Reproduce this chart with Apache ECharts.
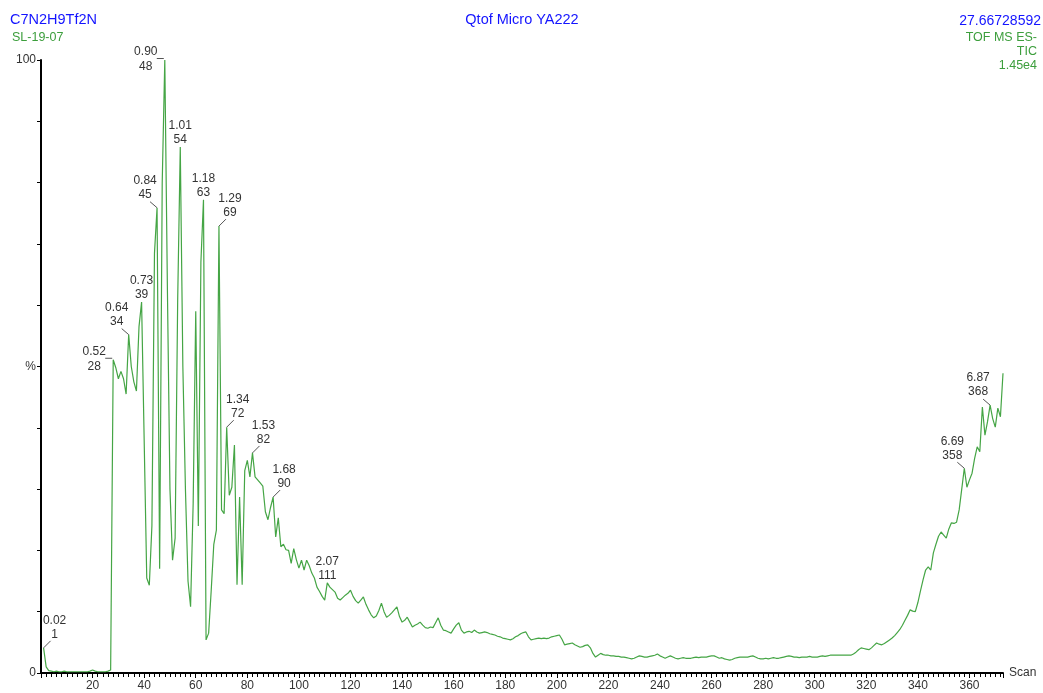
<!DOCTYPE html>
<html>
<head>
<meta charset="utf-8">
<script src="https://cdn.jsdelivr.net/npm/echarts@6/dist/echarts.min.js"></script>
<style>
html,body{margin:0;padding:0;background:#fff;}
#chart{width:1043px;height:693px;}
</style>
</head>
<body>
<div id="chart"></div>
<script>
// ---- DATA ----
const firstScan = 1;
// TIC intensity (% of 1.45e4) for scans 1..373
const tic = [
  4.1, 1.0, 0.4, 0.3, 0.2, 0.3, 0.2, 0.2, 0.3, 0.2,
  0.2, 0.2, 0.2, 0.2, 0.2, 0.2, 0.2, 0.2, 0.3, 0.5,
  0.3, 0.2, 0.2, 0.2, 0.2, 0.3, 0.5, 51.1, 49.8, 48.0,
  49.2, 48.0, 45.5, 55.2, 50.0, 47.5, 46.0, 56.5, 60.5, 38.0,
  15.5, 14.3, 24.0, 68.5, 75.9, 17.0, 80.0, 100, 63.0, 30.0,
  18.4, 22.0, 61.0, 85.8, 50.0, 30.0, 15.0, 10.8, 27.7, 59.0,
  24.0, 67.0, 77.2, 5.4, 6.5, 13.5, 21.0, 23.3, 72.9, 26.6,
  26.0, 40.1, 29.0, 30.3, 37.2, 14.4, 28.7, 14.4, 33.0, 34.7,
  32.0, 35.9, 32.0, 31.5, 31.0, 30.5, 26.3, 25.0, 27.0, 28.7,
  22.2, 25.3, 20.6, 21.0, 20.1, 20.0, 17.9, 20.3, 18.5, 17.1,
  18.4, 16.8, 18.4, 17.5, 16.3, 15.5, 14.0, 13.3, 12.5, 11.9,
  14.7, 14.0, 13.6, 13.2, 12.2, 11.9, 12.3, 12.7, 13.0, 13.5,
  12.5, 11.8, 11.4, 11.9, 12.4, 11.2, 10.3, 9.5, 9.0, 9.3,
  10.2, 11.4, 10.0, 9.1, 9.4, 9.8, 10.3, 10.8, 9.2, 8.3,
  8.6, 9.1, 8.3, 7.5, 7.8, 8.0, 8.3, 7.8, 7.4, 7.3,
  7.5, 7.4, 8.2, 9.0, 7.8, 7.0, 6.9, 6.7, 6.5, 7.2,
  7.8, 8.2, 7.0, 6.5, 6.7, 6.8, 6.6, 7.0, 6.7, 6.5,
  6.6, 6.7, 6.6, 6.4, 6.3, 6.2, 6.0, 5.9, 5.7, 5.6,
  5.5, 5.4, 5.6, 5.9, 6.1, 6.4, 6.6, 6.7, 5.9, 5.4,
  5.5, 5.6, 5.7, 5.6, 5.7, 5.6, 5.7, 5.9, 6.0, 6.1,
  6.2, 5.5, 4.6, 4.7, 4.8, 4.9, 4.6, 4.4, 4.2, 4.3,
  4.5, 4.6, 4.1, 3.2, 2.6, 2.9, 3.2, 3.0, 2.9, 2.9,
  2.8, 2.8, 2.7, 2.7, 2.6, 2.6, 2.5, 2.4, 2.3, 2.4,
  2.6, 2.8, 2.7, 2.6, 2.6, 2.7, 2.8, 2.9, 3.1, 2.8,
  2.6, 2.4, 2.6, 2.8, 2.6, 2.4, 2.3, 2.4, 2.5, 2.4,
  2.4, 2.4, 2.5, 2.6, 2.5, 2.6, 2.6, 2.6, 2.7, 2.8,
  2.8, 2.6, 2.4, 2.5, 2.3, 2.2, 2.1, 2.2, 2.4, 2.5,
  2.6, 2.6, 2.6, 2.6, 2.7, 2.8, 2.6, 2.4, 2.3, 2.3,
  2.4, 2.3, 2.4, 2.5, 2.4, 2.4, 2.5, 2.6, 2.7, 2.8,
  2.7, 2.6, 2.6, 2.5, 2.6, 2.6, 2.6, 2.7, 2.6, 2.6,
  2.6, 2.7, 2.8, 2.7, 2.8, 2.9, 2.9, 2.9, 2.9, 2.9,
  2.9, 2.9, 2.9, 2.9, 3.1, 3.4, 3.8, 4.1, 4.0, 3.9,
  3.8, 4.1, 4.5, 4.9, 4.7, 4.6, 4.8, 5.1, 5.4, 5.7,
  6.1, 6.6, 7.1, 7.8, 8.6, 9.4, 10.3, 10.1, 10.0, 11.5,
  13.4, 15.2, 16.8, 17.3, 16.8, 19.6, 21.0, 22.3, 23.0, 22.5,
  22.0, 23.5, 24.5, 24.4, 24.6, 26.6, 30.0, 33.4, 30.3, 31.5,
  32.6, 35.0, 36.9, 36.1, 43.4, 38.8, 41.0, 43.7, 41.5, 40.1,
  43.2, 41.8, 48.9
];
// Peak annotations: scan number and retention time
const annScans = [1, 28, 34, 39, 45, 48, 54, 63, 69, 72, 82, 90, 111, 358, 368];
const annRT = ['0.02', '0.52', '0.64', '0.73', '0.84', '0.90', '1.01', '1.18', '1.29', '1.34', '1.53', '1.68', '2.07', '6.69', '6.87'];
// Y tick labels
const yLabels = {0: '0', 50: '%', 100: '100'};
// Header texts
const headerLeft = ['C7N2H9Tf2N', 'SL-19-07'];
const headerCenter = 'Qtof Micro YA222';
const headerRight = ['27.66728592', 'TOF MS ES-', 'TIC', '1.45e4'];

// ---- LAYOUT / STYLE (not data) ----
const annPlace = ['ur', 'l', 'ul', 'u', 'ul', 'l', 'u', 'u', 'ur', 'ur', 'ur', 'ur', 'u', 'ul', 'ul'];
const FONT = '"Liberation Sans", Arial, sans-serif';
const BLUE = '#1414ff';
const GREEN = '#3c9e3c';
const TRACE = '#45a545';

const lineData = tic.map((v, i) => [firstScan + i, v]);
const annData = annScans.map((s, i) => [s, tic[s - firstScan], i]);

const chart = echarts.init(document.getElementById('chart'), null, {renderer: 'canvas'});

function renderAnn(params, api) {
  const i = api.value(2);
  const p = api.coord([api.value(0), api.value(1)]);
  const place = annPlace[i];
  let cx, y1, y2, seg = null;
  if (place === 'l') {
    seg = [[p[0] - 8, p[1] - 1.5], [p[0] - 1, p[1] - 1.5]];
    cx = p[0] - 19; y1 = p[1] - 8; y2 = p[1] + 7;
  } else if (place === 'ul') {
    seg = [[p[0], p[1]], [p[0] - 7, p[1] - 6]];
    cx = p[0] - 12; y1 = p[1] - 27; y2 = p[1] - 13;
  } else if (place === 'ur') {
    seg = [[p[0], p[1]], [p[0] + 7, p[1] - 7]];
    cx = p[0] + 11; y1 = p[1] - 27; y2 = p[1] - 13;
  } else {
    cx = p[0]; y1 = p[1] - 21; y2 = p[1] - 7;
  }
  const children = [];
  if (seg) {
    children.push({type: 'line', shape: {x1: seg[0][0], y1: seg[0][1], x2: seg[1][0], y2: seg[1][1]},
      style: {stroke: '#555', lineWidth: 1}});
  }
  children.push({type: 'text', x: cx, y: y1, style: {text: annRT[i], fill: '#333', font: '12px ' + FONT, align: 'center', verticalAlign: 'middle'}});
  children.push({type: 'text', x: cx, y: y2, style: {text: String(api.value(0)), fill: '#333', font: '12px ' + FONT, align: 'center', verticalAlign: 'middle'}});
  return {type: 'group', children: children};
}

const graphics = [
  {type: 'text', x: 10, y: 20, style: {text: headerLeft[0], fill: BLUE, font: '14.5px ' + FONT, verticalAlign: 'middle'}},
  {type: 'text', x: 12, y: 38, style: {text: headerLeft[1], fill: GREEN, font: '12.5px ' + FONT, verticalAlign: 'middle'}},
  {type: 'text', x: 522, y: 20, style: {text: headerCenter, fill: BLUE, font: '14.5px ' + FONT, align: 'center', verticalAlign: 'middle'}},
  {type: 'text', x: 1041, y: 21, style: {text: headerRight[0], fill: BLUE, font: '14px ' + FONT, align: 'right', verticalAlign: 'middle'}},
  {type: 'text', x: 1037, y: 38, style: {text: headerRight[1], fill: GREEN, font: '12.5px ' + FONT, align: 'right', verticalAlign: 'middle'}},
  {type: 'text', x: 1037, y: 52, style: {text: headerRight[2], fill: GREEN, font: '12.5px ' + FONT, align: 'right', verticalAlign: 'middle'}},
  {type: 'text', x: 1037, y: 66, style: {text: headerRight[3], fill: GREEN, font: '12.5px ' + FONT, align: 'right', verticalAlign: 'middle'}}
];

chart.setOption({
  animation: false,
  backgroundColor: '#fff',
  grid: {left: 41, right: 40, top: 60, bottom: 20, containLabel: false},
  graphic: graphics,
  xAxis: {
    type: 'value', min: 0, max: 373, interval: 20,
    name: 'Scan', nameLocation: 'end', nameGap: 6,
    nameTextStyle: {color: '#333', fontSize: 12, fontFamily: FONT, padding: [6, 0, 0, 0]},
    axisLine: {show: true, onZero: false, lineStyle: {color: '#000', width: 2}},
    axisTick: {show: true, length: 5, lineStyle: {color: '#000'}},
    minorTick: {show: true, splitNumber: 10, length: 4, lineStyle: {color: '#000'}},
    axisLabel: {color: '#333', fontSize: 12, fontFamily: FONT, margin: 7,
      formatter: v => (v === 0 || v % 20 !== 0) ? '' : String(v)},
    splitLine: {show: false}
  },
  yAxis: {
    type: 'value', min: 0, max: 100, interval: 10,
    axisLine: {show: true, lineStyle: {color: '#000', width: 2}},
    axisTick: {show: true, length: 4, lineStyle: {color: '#000'}},
    axisLabel: {color: '#333', fontSize: 12, fontFamily: FONT, margin: 5,
      formatter: v => (yLabels[v] !== undefined ? yLabels[v] : '')},
    splitLine: {show: false}
  },
  series: [
    {
      type: 'line', data: lineData, showSymbol: false, symbol: 'none',
      lineStyle: {color: TRACE, width: 1.2}, clip: false, z: 2
    },
    {
      type: 'custom', data: annData, renderItem: renderAnn, clip: false, z: 5,
      encode: {x: 0, y: 1}
    }
  ]
});
</script>
</body>
</html>
